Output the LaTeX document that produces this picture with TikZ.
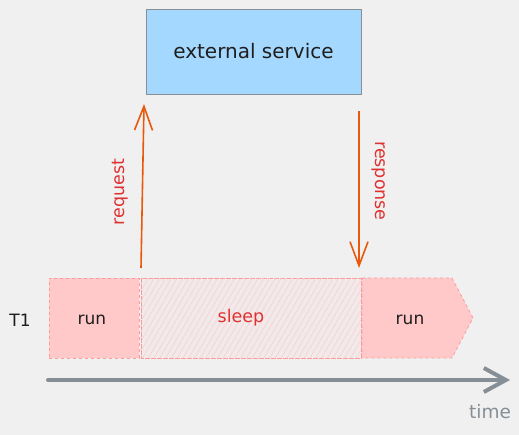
\documentclass[tikz,border=0pt]{standalone}
\usepackage{fontspec}
\setmainfont{DejaVu Sans}
\usetikzlibrary{arrows.meta,patterns.meta}
\definecolor{bgc}{HTML}{F0F0F0}
\definecolor{svcfill}{HTML}{A5D8FF}
\definecolor{svcdraw}{HTML}{868E96}
\definecolor{arr}{HTML}{E8590C}
\definecolor{lbl}{HTML}{E03131}
\definecolor{runfill}{HTML}{FFC9C9}
\definecolor{rundraw}{HTML}{FF9A9A}
\definecolor{hatch}{HTML}{F7D0D0}
\definecolor{sleepfill}{HTML}{F2EAEA}
\definecolor{axis}{HTML}{868E96}
\definecolor{txt}{HTML}{1E1E1E}
\tikzset{
  svc/.style={draw=svcdraw, fill=svcfill, line width=0.8pt, inner sep=0pt},
  flow/.style={draw=arr, line width=1.6pt, -{Straight Barb[length=24pt,width=18pt,line width=1.6pt]}},
  flowlabel/.style={text=lbl, font=\fontsize{17.5}{20}\selectfont},
  runbox/.style={fill=runfill, draw=rundraw, line width=0.8pt, dash pattern=on 3pt off 3pt},
  sleepbox/.style={fill=sleepfill, draw=rundraw, line width=0.8pt, dash pattern=on 3pt off 3pt},
  boxtext/.style={text=txt, font=\fontsize{17}{20}\selectfont},
  axisline/.style={draw=axis, line width=4pt, line cap=round, -{Straight Barb[length=22pt,width=24pt,line width=4pt]}},
}
\begin{document}
\begin{tikzpicture}[x=1pt,y=-1pt]
\fill[bgc] (0,0) rectangle (519,435);
\useasboundingbox (0,0) rectangle (519,435);
% external service
\node[svc, minimum width=215pt, minimum height=85pt, anchor=north west] (svc) at (146,9) {};
\node[boxtext, font=\fontsize{20}{23}\selectfont] (svctext) at (253.5,51) {external service};
% row
\node[runbox, minimum width=90pt, minimum height=80pt, anchor=north west, inner sep=0pt] (run1) at (49,278) {};
\node[sleepbox, minimum width=220pt, minimum height=80pt, anchor=north west, inner sep=0pt] (sleep) at (141,278) {};
\fill[pattern={Lines[angle=60,distance=5pt,line width=0.6pt]}, pattern color=hatch] (141.5,278.5) rectangle (360.5,357.5);
\draw[rundraw, line width=0.8pt, dash pattern=on 3pt off 3pt] (141,278) rectangle (361,358);
\path[runbox] (362,278) -- (452,278) -- (473,318) -- (452,358) -- (362,358) -- cycle;
\coordinate (run2c) at (410,320);
\node[boxtext] (run1text) at (92,320) {run};
\node[flowlabel] (sleeptext) at (241,318) {sleep};
\node[boxtext] (run2text) at (run2c) {run};
\node[boxtext] (t1) at (20,320) {T1};
% arrows
\coordinate (reqstart) at (141,268);
\coordinate (reqend) at (144,104);
\draw[flow] (reqstart) -- (reqend);
\node[flowlabel, rotate=90] (reqlbl) at (120,192) {request};
\coordinate (resstart) at (359,111);
\coordinate (resend) at (359,268);
\draw[flow] (resstart) -- (resend);
\node[flowlabel, rotate=-90] (reslbl) at (379,181) {response};
% time axis
\coordinate (axstart) at (48,380);
\coordinate (axend) at (510,380);
\draw[axisline] (axstart) -- (axend);
\node[text=axis, font=\fontsize{18.5}{21}\selectfont] (timelbl) at (490,412) {time};
\end{tikzpicture}
\end{document}
